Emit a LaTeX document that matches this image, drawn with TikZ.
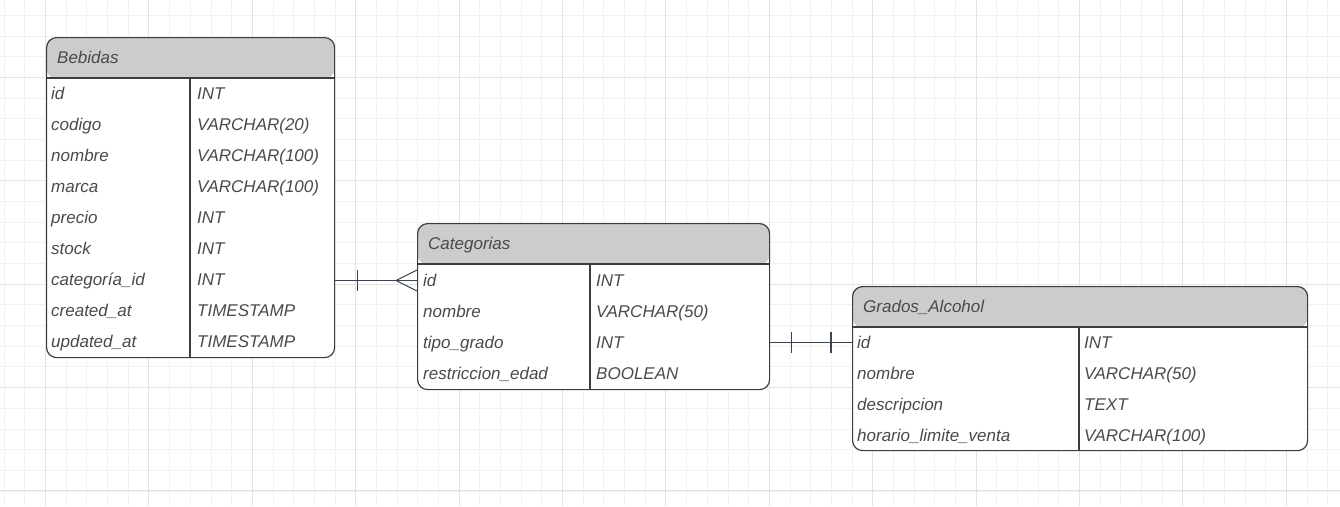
\documentclass[tikz,border=0pt]{standalone}
\usepackage{fontspec}
\setmainfont{Liberation Sans}
\usetikzlibrary{calc}
\definecolor{gridminor}{HTML}{F1F1F1}
\definecolor{gridmajor}{HTML}{E3E3E3}
\definecolor{hdrgray}{HTML}{CCCCCC}
\definecolor{txtgray}{HTML}{4A4A4A}
\definecolor{edgegray}{HTML}{3C3C3C}
\definecolor{linkgray}{HTML}{3A4450}
\begin{document}
\begin{tikzpicture}[x=1pt,y=-1pt,
  tbl/.style={draw=edgegray, line width=1.2pt, rounded corners=10pt, fill=white, anchor=north west, inner sep=0pt,
    path picture={\fill[hdrgray] (path picture bounding box.north west) rectangle ([yshift=-41pt]path picture bounding box.north east);}},
  sep/.style={draw=edgegray, line width=1.1pt},
  cell/.style={anchor=base west, inner sep=0pt, text=txtgray, font=\fontsize{17}{20}\selectfont\itshape},
  link/.style={draw=linkgray, line width=1.1pt}]
\useasboundingbox (0,0) rectangle (1340,506);
\fill[white] (0,0) rectangle (1340,506);
% grid
\foreach \i in {0,...,64} {\draw[gridminor, line width=0.8pt] ({4.1+20.68*\i},0) -- ({4.1+20.68*\i},506);}
\foreach \i in {0,...,24} {\draw[gridminor, line width=0.8pt] (0,{15.3+20.68*\i}) -- (1340,{15.3+20.68*\i});}
\foreach \i in {0,...,12} {\draw[gridmajor, line width=0.9pt] ({45.5+103.4*\i},0) -- ({45.5+103.4*\i},506);}
\foreach \i in {0,...,4} {\draw[gridmajor, line width=0.9pt] (0,{77.3+103.4*\i}) -- (1340,{77.3+103.4*\i});}

% ---------- Bebidas ----------
\node[tbl, minimum width=288pt, minimum height=320pt] (beb) at (46,37) {};
\draw[sep] ([yshift=-41pt]beb.north west) -- ([yshift=-41pt]beb.north east);
\draw[sep] ([xshift=144pt,yshift=-41pt]beb.north west) -- ([xshift=144pt]beb.south west);
\node[cell] (beb-h) at (57,63.5) {Bebidas};
\foreach \n/\t [count=\k from 0] in {id/INT, codigo/VARCHAR(20), nombre/VARCHAR(100), marca/VARCHAR(100), precio/INT, stock/INT, categoría\_id/INT, created\_at/TIMESTAMP, updated\_at/TIMESTAMP} {
  \node[cell] (beb-n\k) at (51,{99.5+31*\k}) {\n};
  \node[cell] (beb-t\k) at (197,{99.5+31*\k}) {\t};
}

% ---------- Categorias ----------
\node[tbl, minimum width=352pt, minimum height=166pt] (cat) at (417,223) {};
\draw[sep] ([yshift=-41pt]cat.north west) -- ([yshift=-41pt]cat.north east);
\draw[sep] ([xshift=173pt,yshift=-41pt]cat.north west) -- ([xshift=173pt]cat.south west);
\node[cell] (cat-h) at (428,249.5) {Categorias};
\foreach \n/\t [count=\k from 0] in {id/INT, nombre/VARCHAR(50), tipo\_grado/INT, restriccion\_edad/BOOLEAN} {
  \node[cell] (cat-n\k) at (423,{286.5+31*\k}) {\n};
  \node[cell] (cat-t\k) at (596,{286.5+31*\k}) {\t};
}

% ---------- Grados_Alcohol ----------
\node[tbl, minimum width=455pt, minimum height=164pt] (gra) at (852,286) {};
\draw[sep] ([yshift=-41pt]gra.north west) -- ([yshift=-41pt]gra.north east);
\draw[sep] ([xshift=227pt,yshift=-41pt]gra.north west) -- ([xshift=227pt]gra.south west);
\node[cell] (gra-h) at (863,312.5) {Grados\_Alcohol};
\foreach \n/\t [count=\k from 0] in {id/INT, nombre/VARCHAR(50), descripcion/TEXT, horario\_limite\_venta/VARCHAR(100)} {
  \node[cell] (gra-n\k) at (857,{348.5+31*\k}) {\n};
  \node[cell] (gra-t\k) at (1084,{348.5+31*\k}) {\t};
}

% ---------- connectors ----------
\coordinate (l1a) at (beb.east |- 0,280.5);
\coordinate (l1b) at (cat.west |- 0,280.5);
\draw[link] (l1a) -- (l1b);
\draw[link] ([xshift=22pt]l1a) ++(0,-10.5) -- ++(0,21);
\draw[link] ([xshift=-21pt]l1b) -- ([yshift=-10.5pt]l1b);
\draw[link] ([xshift=-21pt]l1b) -- ([yshift=10.5pt]l1b);

\coordinate (l2a) at (cat.east |- 0,342.5);
\coordinate (l2b) at (gra.west |- 0,342.5);
\draw[link] (l2a) -- (l2b);
\draw[link] ([xshift=21pt]l2a) ++(0,-10.5) -- ++(0,21);
\draw[link] ([xshift=-21pt]l2b) ++(0,-10.5) -- ++(0,21);
\end{tikzpicture}
\end{document}
